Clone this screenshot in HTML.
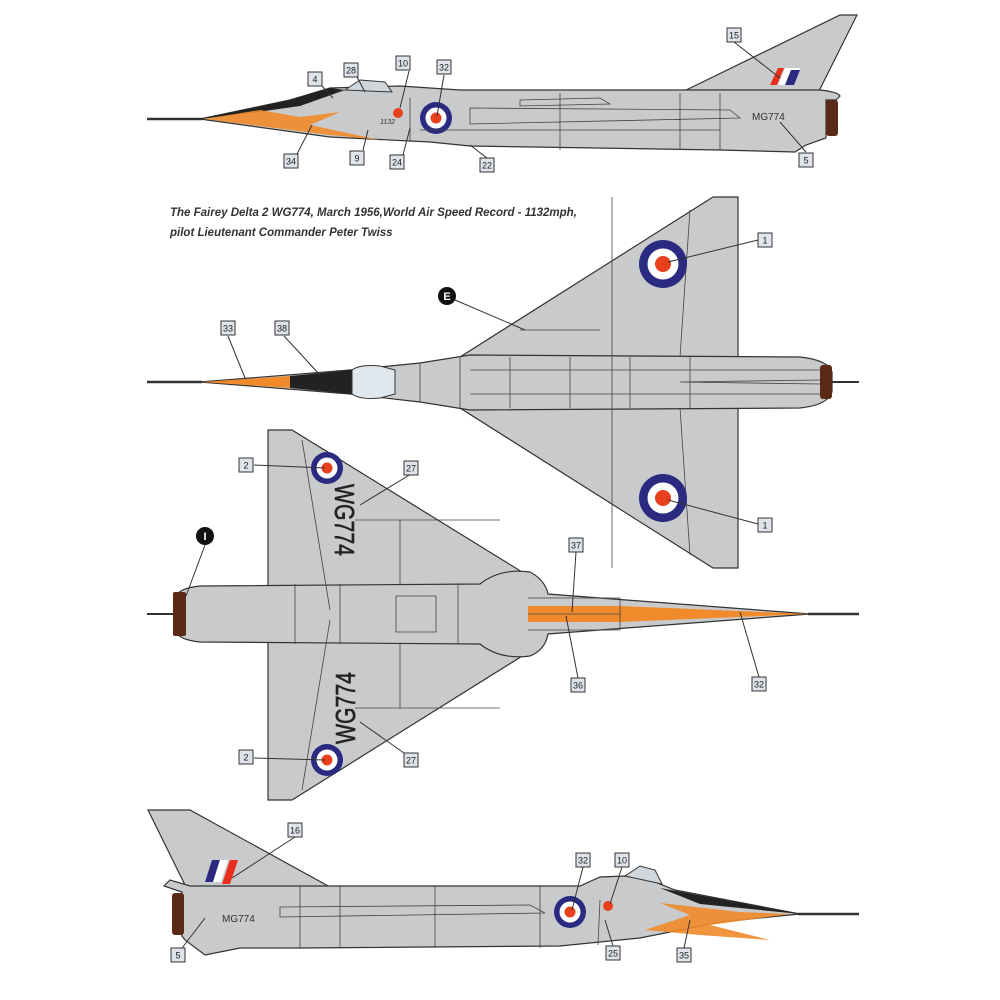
<!DOCTYPE html>
<html><head><meta charset="utf-8"><style>
html,body{margin:0;padding:0;background:#fff;width:1000px;height:1000px;overflow:hidden}
svg{display:block}
.lb rect{fill:#dfe3ea;stroke:#333;stroke-width:1}
.lb text{font-family:"Liberation Sans",sans-serif;font-size:9px;fill:#222;text-anchor:middle}
.ln{stroke:#333;stroke-width:1;fill:none}
.g{fill:#c9cacc;stroke:#333;stroke-width:1.2}
.pl{stroke:#444;stroke-width:0.8;fill:none}
</style></head><body>
<svg width="1000" height="1000" viewBox="0 0 1000 1000" xmlns="http://www.w3.org/2000/svg">
<defs>
<g id="rnd16"><circle r="16" fill="#2a2a80"/><circle r="10.5" fill="#fff"/><circle r="5.5" fill="#e8401c"/></g>
<g id="rnd24"><circle r="24" fill="#2a2a80"/><circle r="15.5" fill="#fff"/><circle r="8" fill="#e8401c"/></g>
</defs>

<!-- ============ TOP SIDE VIEW ============ -->
<line x1="147" y1="119" x2="202" y2="119" stroke="#333" stroke-width="2.5"/>
<polygon class="g" points="680,93 840,15 857,15 818,93"/>
<polygon points="770,85 778,68 784,68 777,85" fill="#e8301c"/>
<polygon points="778,85 785,68 800,68 793,85" fill="#fff"/>
<polygon points="785,85 791,70 800,70 794,85" fill="#2a2a80"/>
<path class="g" d="M200,119 L290,100 L330,88 L400,86 L460,90 L820,90 Q838,92 840,96 L836,100 L826,100 L826,138 L806,145 L795,152 L720,150 L470,146 L430,142 L330,137 Z"/>
<path d="M200,119 L290,100 L330,88 L345,90 L300,106 L250,113 Z" fill="#222"/>
<path d="M204,119 L260,110 L300,117 L340,112 L310,125 L380,140 L330,135 L260,126 Z" fill="#f08a2a" opacity="0.9"/>
<path d="M345,90 L360,80 L385,82 L392,92 Z" fill="#cfd6dc" stroke="#333"/>
<rect x="826" y="100" width="12" height="36" rx="3" fill="#5a2a14"/>
<circle cx="398" cy="113" r="5" fill="#e8401c"/>
<use href="#rnd16" x="436" y="118"/>
<path class="pl" d="M470,108 L730,110 L740,118 L470,124 Z M520,100 L600,98 L610,104 L520,106 Z M420,130 L720,130 M680,93 L680,150 M720,93 L720,150 M560,93 L560,150 M410,98 L410,142"/>
<text x="752" y="120" font-family="Liberation Sans,sans-serif" font-size="10" fill="#333">MG774</text>
<text x="380" y="124" font-family="Liberation Sans,sans-serif" font-size="7" font-style="italic" fill="#333">1132</text>

<g class="ln">
<line x1="734" y1="42" x2="780" y2="78"/><line x1="322" y1="86" x2="333" y2="98"/><line x1="357" y1="77" x2="365" y2="92"/>
<line x1="409" y1="71" x2="400" y2="108"/><line x1="444" y1="75" x2="437" y2="116"/><line x1="297" y1="154" x2="312" y2="125"/>
<line x1="363" y1="150" x2="368" y2="130"/><line x1="403" y1="155" x2="410" y2="128"/><line x1="487" y1="158" x2="470" y2="145"/><line x1="806" y1="152" x2="780" y2="122"/>
</g>
<g class="lb">
<g transform="translate(727,28)"><rect width="14" height="14"/><text x="7" y="10.5">15</text></g>
<g transform="translate(308,72)"><rect width="14" height="14"/><text x="7" y="10.5">4</text></g>
<g transform="translate(344,63)"><rect width="14" height="14"/><text x="7" y="10.5">28</text></g>
<g transform="translate(396,56)"><rect width="14" height="14"/><text x="7" y="10.5">10</text></g>
<g transform="translate(437,60)"><rect width="14" height="14"/><text x="7" y="10.5">32</text></g>
<g transform="translate(284,154)"><rect width="14" height="14"/><text x="7" y="10.5">34</text></g>
<g transform="translate(350,151)"><rect width="14" height="14"/><text x="7" y="10.5">9</text></g>
<g transform="translate(390,155)"><rect width="14" height="14"/><text x="7" y="10.5">24</text></g>
<g transform="translate(480,158)"><rect width="14" height="14"/><text x="7" y="10.5">22</text></g>
<g transform="translate(799,153)"><rect width="14" height="14"/><text x="7" y="10.5">5</text></g>
</g>

<text x="170" y="216" font-family="Liberation Sans,sans-serif" font-size="11.5" font-weight="bold" font-style="italic" fill="#333">The Fairey Delta 2 WG774, March 1956,World Air Speed Record - 1132mph,</text>
<text x="170" y="236" font-family="Liberation Sans,sans-serif" font-size="11.5" font-weight="bold" font-style="italic" fill="#333">pilot Lieutenant Commander Peter Twiss</text>

<!-- ============ PLAN VIEW ============ -->
<line x1="147" y1="382" x2="202" y2="382" stroke="#333" stroke-width="2.5"/>
<line x1="830" y1="382" x2="859" y2="382" stroke="#333" stroke-width="2"/>
<polygon class="g" points="460,357 713,197 738,197 738,568 713,568 460,408"/>
<path class="g" d="M200,382 L350,370 L420,363 L470,355 L800,357 Q828,360 832,372 L832,392 Q828,405 800,408 L470,410 L420,402 L350,394 Z"/>
<path d="M202,382 L290,376 L290,388 Z" fill="#f08a2a"/>
<path d="M290,376 L352,370 L352,394 L290,388 Z" fill="#222"/>
<path d="M352,370 Q360,364 380,366 L395,370 L395,394 L380,398 Q360,400 352,394 Z" fill="#dfe6ec" stroke="#333"/>
<rect x="820" y="365" width="12" height="34" rx="3" fill="#5a2a14"/>
<path class="pl" d="M470,370 L820,370 M470,394 L820,394 M510,357 L510,408 M570,357 L570,408 M630,357 L630,408 M690,357 L690,408 M680,382 L820,380 M680,382 L820,384 M612,197 L612,568 M690,210 L680,357 M690,555 L680,408 M520,330 L600,330 M420,363 L420,402 M460,357 L460,408"/>
<use href="#rnd24" x="663" y="264"/>
<use href="#rnd24" x="663" y="498"/>
<g class="ln">
<line x1="758" y1="240" x2="668" y2="262"/><line x1="758" y1="524" x2="668" y2="500"/>
<line x1="455" y1="300" x2="525" y2="330"/><line x1="228" y1="336" x2="245" y2="378"/><line x1="284" y1="336" x2="320" y2="375"/>
</g>
<circle cx="447" cy="296" r="9" fill="#111"/><text x="447" y="300" font-family="Liberation Sans,sans-serif" font-size="11" font-weight="bold" fill="#fff" text-anchor="middle">E</text>
<g class="lb">
<g transform="translate(758,233)"><rect width="14" height="14"/><text x="7" y="10.5">1</text></g>
<g transform="translate(758,518)"><rect width="14" height="14"/><text x="7" y="10.5">1</text></g>
<g transform="translate(221,321)"><rect width="14" height="14"/><text x="7" y="10.5">33</text></g>
<g transform="translate(275,321)"><rect width="14" height="14"/><text x="7" y="10.5">38</text></g>
</g>

<!-- ============ UNDERSIDE VIEW ============ -->
<line x1="147" y1="614" x2="174" y2="614" stroke="#333" stroke-width="2"/>
<line x1="808" y1="614" x2="859" y2="614" stroke="#333" stroke-width="2.5"/>
<polygon class="g" points="268,430 292,430 535,580 535,648 292,800 268,800"/>
<path class="g" d="M176,596 Q180,588 200,586 L480,584 Q500,568 530,572 Q545,580 548,594 L810,614 L548,634 Q545,650 530,656 Q500,660 480,644 L200,642 Q180,640 176,632 Z"/>
<rect x="173" y="592" width="13" height="44" rx="2" fill="#5a2a14"/>
<path d="M528,606 L620,606 L810,614 L620,622 L528,622 Z" fill="#f08a2a"/>
<path class="pl" d="M528,598 L620,598 L620,630 L528,630 M528,614 L620,614 M295,584 L295,644 M396,596 L436,596 L436,632 L396,632 Z M340,584 L340,644 M458,584 L458,644 M302,440 L330,610 M302,790 L330,620 M355,520 L500,520 M355,708 L500,708 M400,520 L400,584 M400,644 L400,708"/>
<use href="#rnd16" x="327" y="468"/>
<use href="#rnd16" x="327" y="760"/>
<text transform="translate(335,520) rotate(90)" font-family="Liberation Sans,sans-serif" font-size="28" fill="#222" stroke="#222" stroke-width="0.6" text-anchor="middle" textLength="72" lengthAdjust="spacingAndGlyphs">WG774</text>
<text transform="translate(355,708) rotate(-90)" font-family="Liberation Sans,sans-serif" font-size="28" fill="#222" stroke="#222" stroke-width="0.6" text-anchor="middle" textLength="72" lengthAdjust="spacingAndGlyphs">WG774</text>
<g class="ln">
<line x1="205" y1="545" x2="186" y2="596"/><line x1="254" y1="465" x2="325" y2="468"/><line x1="254" y1="758" x2="325" y2="760"/>
<line x1="411" y1="474" x2="360" y2="505"/><line x1="411" y1="758" x2="360" y2="722"/>
<line x1="576" y1="552" x2="572" y2="612"/><line x1="578" y1="678" x2="566" y2="616"/><line x1="759" y1="677" x2="740" y2="612"/>
</g>
<circle cx="205" cy="536" r="9" fill="#111"/><text x="205" y="540" font-family="Liberation Sans,sans-serif" font-size="11" font-weight="bold" fill="#fff" text-anchor="middle">I</text>
<g class="lb">
<g transform="translate(239,458)"><rect width="14" height="14"/><text x="7" y="10.5">2</text></g>
<g transform="translate(239,750)"><rect width="14" height="14"/><text x="7" y="10.5">2</text></g>
<g transform="translate(404,461)"><rect width="14" height="14"/><text x="7" y="10.5">27</text></g>
<g transform="translate(404,753)"><rect width="14" height="14"/><text x="7" y="10.5">27</text></g>
<g transform="translate(569,538)"><rect width="14" height="14"/><text x="7" y="10.5">37</text></g>
<g transform="translate(571,678)"><rect width="14" height="14"/><text x="7" y="10.5">36</text></g>
<g transform="translate(752,677)"><rect width="14" height="14"/><text x="7" y="10.5">32</text></g>
</g>

<!-- ============ BOTTOM SIDE VIEW ============ -->
<line x1="798" y1="914" x2="859" y2="914" stroke="#333" stroke-width="2.5"/>
<polygon class="g" points="148,810 190,810 330,887 186,887"/>
<polygon points="205,882 212,860 220,860 213,882" fill="#2a2a80"/>
<polygon points="213,882 220,860 228,860 221,882" fill="#fff"/>
<polygon points="222,884 230,860 238,860 230,884" fill="#e8301c"/>
<path class="g" d="M182,892 L164,886 L170,880 L190,886 L580,886 L600,877 L625,876 L650,880 L675,890 L800,914 L720,922 L640,938 L560,946 L300,948 L240,948 L205,955 L185,940 L182,936 Z"/>
<path d="M660,888 L800,914 L700,904 Z" fill="#222"/>
<path d="M645,930 L690,915 L660,903 L740,912 L790,914 L710,925 L770,940 L700,935 Z" fill="#f08a2a" opacity="0.9"/>
<path d="M625,876 L640,866 L655,870 L662,884 Z" fill="#cfd6dc" stroke="#333"/>
<rect x="172" y="893" width="12" height="42" rx="3" fill="#5a2a14"/>
<circle cx="608" cy="906" r="5" fill="#e8401c"/>
<use href="#rnd16" x="570" y="912"/>
<path class="pl" d="M280,907 L530,905 L545,913 L280,917 Z M300,886 L300,948 M340,886 L340,948 M435,886 L435,948 M540,886 L540,948 M600,900 L598,945"/>
<text x="222" y="922" font-family="Liberation Sans,sans-serif" font-size="10" fill="#333">MG774</text>
<g class="ln">
<line x1="295" y1="837" x2="232" y2="878"/><line x1="583" y1="867" x2="572" y2="910"/><line x1="622" y1="867" x2="610" y2="904"/>
<line x1="182" y1="948" x2="205" y2="918"/><line x1="613" y1="946" x2="605" y2="920"/><line x1="684" y1="948" x2="690" y2="920"/>
</g>
<g class="lb">
<g transform="translate(288,823)"><rect width="14" height="14"/><text x="7" y="10.5">16</text></g>
<g transform="translate(576,853)"><rect width="14" height="14"/><text x="7" y="10.5">32</text></g>
<g transform="translate(615,853)"><rect width="14" height="14"/><text x="7" y="10.5">10</text></g>
<g transform="translate(171,948)"><rect width="14" height="14"/><text x="7" y="10.5">5</text></g>
<g transform="translate(606,946)"><rect width="14" height="14"/><text x="7" y="10.5">25</text></g>
<g transform="translate(677,948)"><rect width="14" height="14"/><text x="7" y="10.5">35</text></g>
</g>
</svg>
</body></html>
